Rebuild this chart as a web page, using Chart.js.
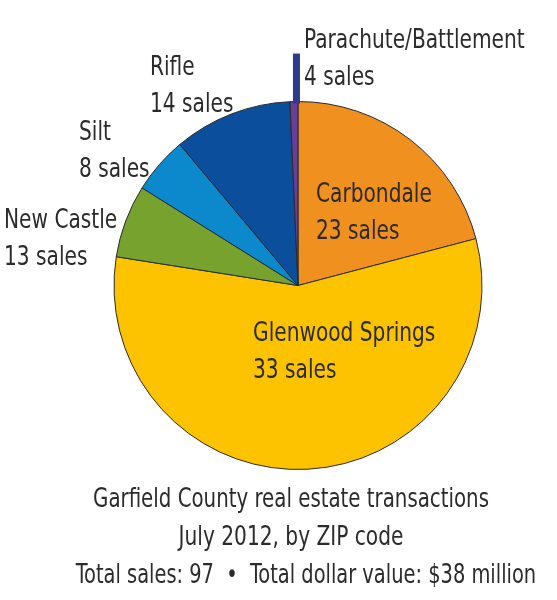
<!DOCTYPE html>
<html lang="en">

<head>
    <meta charset="UTF-8">
    <title>Garfield County real estate transactions</title>
    <style>
        html, body { margin: 0; padding: 0; background: #fff; }
        #chart { display: block; }
    </style>
</head>

<body>
    <canvas id="chart" width="557" height="600"></canvas>

    <script src="https://cdn.jsdelivr.net/npm/chart.js"></script>
    <script>
        // ZIP code areas, clockwise from 12 o'clock
        const towns = ['Carbondale', 'Glenwood Springs', 'New Castle', 'Silt', 'Rifle', 'Parachute/Battlement'];
        const sales = [23, 33, 13, 8, 14, 4];
        // slice sizes as drawn (share of the circle, %)
        const sliceShare = [20.9, 56.6, 6.4, 5.0, 10.4, 0.7];
        const titleLines = [
            'Garfield County real estate transactions',
            'July 2012, by ZIP code',
            'Total sales: 97  \u2022  Total dollar value: $38 million'
        ];

        const colors = ['#f0901e', '#fdc300', '#76a22d', '#0b89cc', '#0b4f9c', '#6a3d98'];
        const FONT = '"DejaVu Sans Condensed", "DejaVu Sans", sans-serif';
        const TEXT = '#2b2b2b';
        const SQUEEZE = 0.83; // no narrow font here, so squash the condensed one a bit

        // where each label sits (left edge, first baseline)
        const labelPos = [
            [316, 202], [253, 341], [4, 228], [79, 140], [150, 75], [304, 48]
        ];

        function narrowText(ctx, text, x, y, sx) {
            ctx.save();
            ctx.translate(x, y);
            ctx.scale(sx || SQUEEZE, 1);
            ctx.fillText(text, 0, 0);
            ctx.restore();
        }

        const textPlugin = {
            id: 'textPlugin',
            afterDraw(chart) {
                const ctx = chart.ctx;
                const arcs = chart.getDatasetMeta(0).data;

                // callout bar for the tiny slice
                const last = arcs[arcs.length - 1];
                const mid = (last.startAngle + last.endAngle) / 2;
                const bx = last.x + Math.cos(mid) * last.outerRadius;
                const by = last.y + Math.sin(mid) * last.outerRadius;
                ctx.save();
                ctx.fillStyle = '#2e3a8e';
                ctx.fillRect(bx - 1, by - 48, 7, 50);

                ctx.fillStyle = TEXT;
                ctx.textAlign = 'left';
                ctx.textBaseline = 'alphabetic';
                ctx.font = '27px ' + FONT;
                towns.forEach((t, i) => {
                    const [x, y] = labelPos[i];
                    narrowText(ctx, t, x, y);
                    narrowText(ctx, sales[i] + ' sales', x, y + 37);
                });

                ctx.textAlign = 'center';
                narrowText(ctx, titleLines[0], 291, 507, 0.815);
                narrowText(ctx, titleLines[1], 291, 545);
                narrowText(ctx, titleLines[2], 306, 583, 0.80);
                ctx.restore();
            }
        };

        new Chart(document.getElementById('chart'), {
            type: 'pie',
            data: {
                labels: towns,
                datasets: [{
                    data: sliceShare,
                    backgroundColor: colors,
                    borderColor: '#2a2a2a',
                    borderWidth: 1
                }]
            },
            options: {
                responsive: false,
                animation: false,
                layout: { padding: { top: 101, bottom: 130, left: 39, right: 0 } },
                plugins: {
                    legend: { display: false },
                    tooltip: { enabled: false }
                }
            },
            plugins: [textPlugin]
        });
    </script>
</body>

</html>
